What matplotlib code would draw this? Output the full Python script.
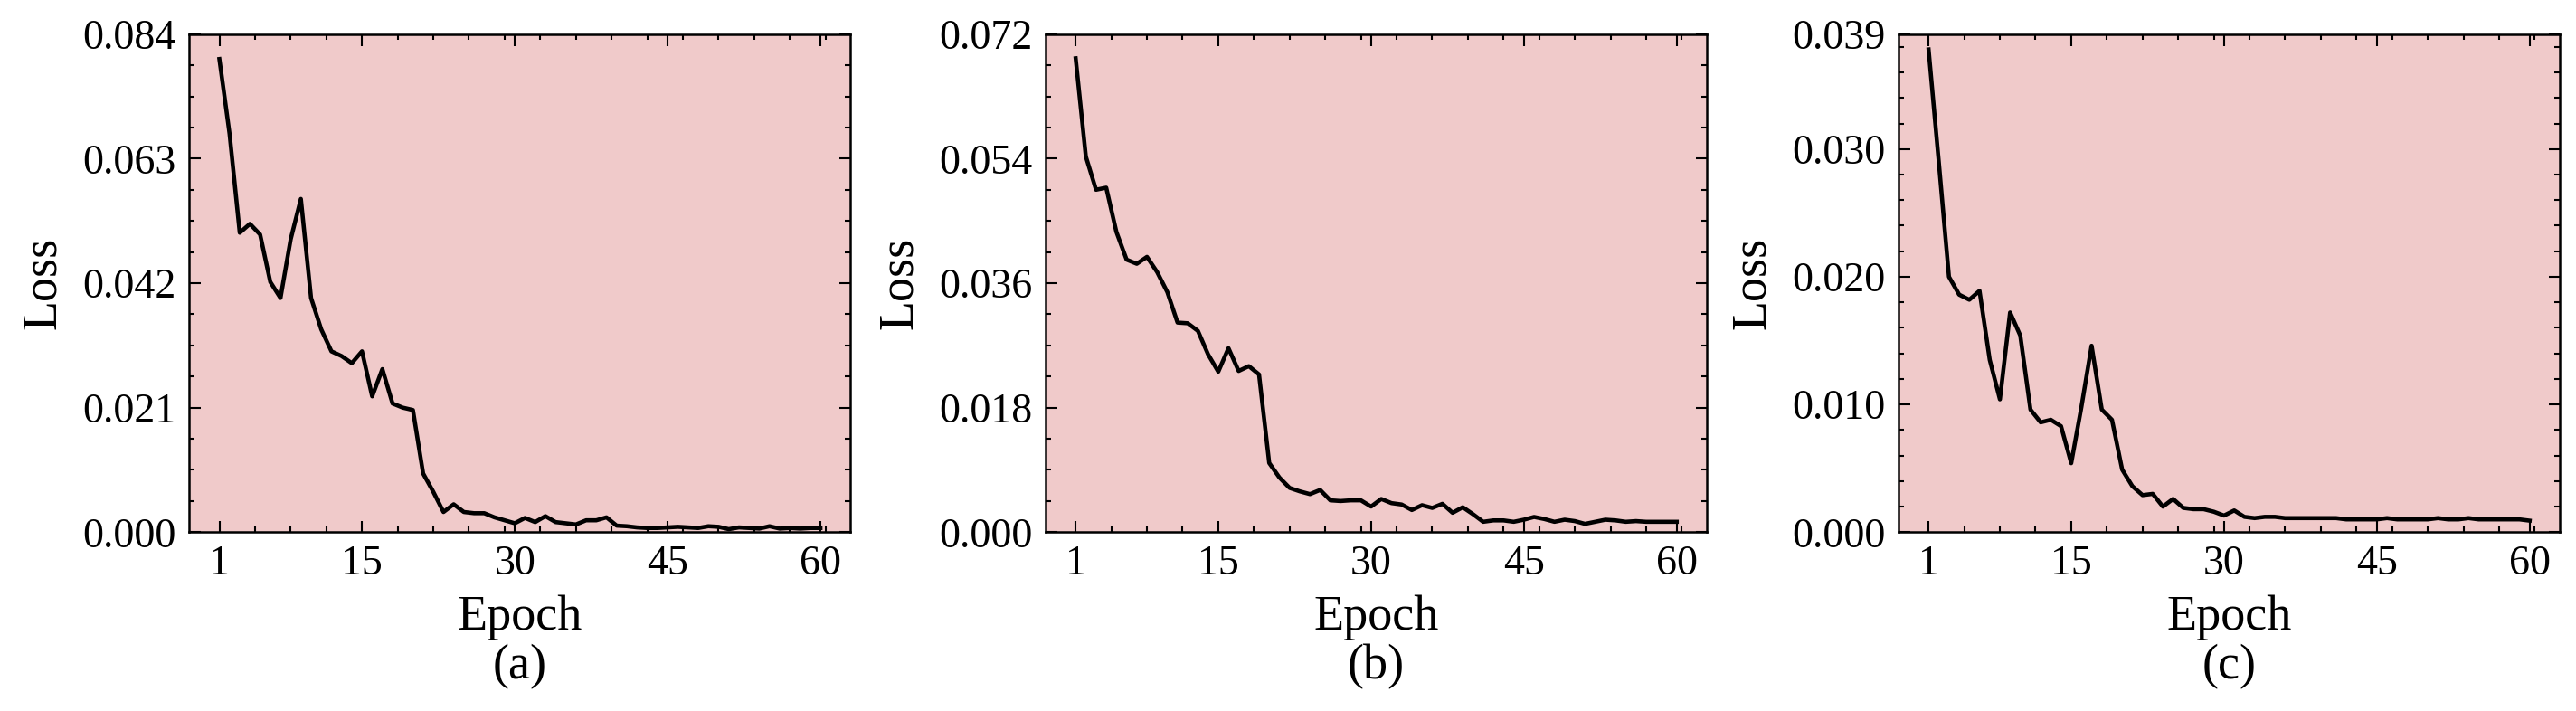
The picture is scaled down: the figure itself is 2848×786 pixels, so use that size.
import matplotlib
matplotlib.use("Agg")
import matplotlib.pyplot as plt
from matplotlib.ticker import AutoMinorLocator, FixedLocator, FormatStrFormatter
import numpy as np

epochs = list(range(1, 61))

loss_a = [0.0798, 0.0672, 0.0505, 0.0520, 0.0502, 0.0422, 0.0395, 0.0494, 0.0562, 0.0395,
          0.0342, 0.0305, 0.0297, 0.0285, 0.0305, 0.0229, 0.0275, 0.0217, 0.0210, 0.0206,
          0.0099, 0.0068, 0.0034, 0.0047, 0.0034, 0.0032, 0.0032, 0.0025, 0.0020, 0.0015,
          0.0024, 0.0017, 0.0027, 0.0017, 0.0015, 0.0013, 0.0020, 0.0020, 0.0025, 0.0011,
          0.0010, 0.0008, 0.0007, 0.0007, 0.0008, 0.0009, 0.0008, 0.0007, 0.0010, 0.0009,
          0.0005, 0.0008, 0.0007, 0.0006, 0.0010, 0.0006, 0.0007, 0.0006, 0.0007, 0.0007]

loss_b = [0.0685, 0.0543, 0.0495, 0.0498, 0.0434, 0.0394, 0.0388, 0.0398, 0.0376, 0.0347,
          0.0303, 0.0302, 0.0291, 0.0257, 0.0232, 0.0266, 0.0233, 0.0240, 0.0228, 0.0100,
          0.0079, 0.0064, 0.0059, 0.0055, 0.0061, 0.0046, 0.0045, 0.0046, 0.0046, 0.0037,
          0.0048, 0.0042, 0.0040, 0.0032, 0.0039, 0.0035, 0.0041, 0.0028, 0.0036, 0.0026,
          0.0015, 0.0017, 0.0017, 0.0015, 0.0018, 0.0022, 0.0019, 0.0015, 0.0018, 0.0016,
          0.0012, 0.0015, 0.0018, 0.0017, 0.0015, 0.0016, 0.0015, 0.0015, 0.0015, 0.0015]

loss_c = [0.0378, 0.0290, 0.0200, 0.0186, 0.0182, 0.0189, 0.0135, 0.0104, 0.0172, 0.0154,
          0.0096, 0.0086, 0.0088, 0.0083, 0.0054, 0.0098, 0.0146, 0.0096, 0.0088, 0.0049,
          0.0036, 0.0029, 0.0030, 0.0020, 0.0026, 0.0019, 0.0018, 0.0018, 0.0016, 0.0013,
          0.0017, 0.0012, 0.0011, 0.0012, 0.0012, 0.0011, 0.0011, 0.0011, 0.0011, 0.0011,
          0.0011, 0.0010, 0.0010, 0.0010, 0.0010, 0.0011, 0.0010, 0.0010, 0.0010, 0.0010,
          0.0011, 0.0010, 0.0010, 0.0011, 0.0010, 0.0010, 0.0010, 0.0010, 0.0010, 0.0009]

series = [loss_a, loss_b, loss_c]
panel_labels = ["(a)", "(b)", "(c)"]
x_ticks = [1, 15, 30, 45, 60]
y_ticks = [[0.0, 0.021, 0.042, 0.063, 0.084],
           [0.0, 0.018, 0.036, 0.054, 0.072],
           [0.0, 0.010, 0.020, 0.030, 0.039]]

plt.rcParams["font.family"] = ["Liberation Serif", "DejaVu Serif"]
plt.rcParams["mathtext.fontset"] = "stix"

W, H = 2848, 786
dpi = 300
fig = plt.figure(figsize=(W / dpi, H / dpi), dpi=dpi)

bg = "#f0caca"
lefts_px = [209.3, 1156.0, 2099.0]
width_px = 731.0
top_px, bottom_px = 37.7, 588.3

for i, (ys, lab, yt) in enumerate(zip(series, panel_labels, y_ticks)):
    ax = fig.add_axes([lefts_px[i] / W, 1 - bottom_px / H,
                       width_px / W, (bottom_px - top_px) / H])
    ax.set_facecolor(bg)
    ax.plot(epochs, ys, color="black", linewidth=1.1)
    ax.set_ylim(yt[0], yt[-1])
    ax.xaxis.set_major_locator(FixedLocator(x_ticks))
    ax.yaxis.set_major_locator(FixedLocator(yt))
    ax.yaxis.set_major_formatter(FormatStrFormatter("%.3f"))
    ax.xaxis.set_minor_locator(AutoMinorLocator())
    ax.yaxis.set_minor_locator(AutoMinorLocator())
    ax.tick_params(which="both", direction="in", top=True, right=True,
                   width=0.5, labelsize=11)
    ax.tick_params(which="major", length=3, pad=3.5)
    ax.tick_params(which="minor", length=1.5)
    for s in ax.spines.values():
        s.set_linewidth(0.6)
    ax.set_xlabel("Epoch\n" + lab, fontsize=13, linespacing=1.1, labelpad=3)
    ax.set_ylabel("Loss", fontsize=13, labelpad=4.3)

fig.savefig("out.png", dpi=dpi)
